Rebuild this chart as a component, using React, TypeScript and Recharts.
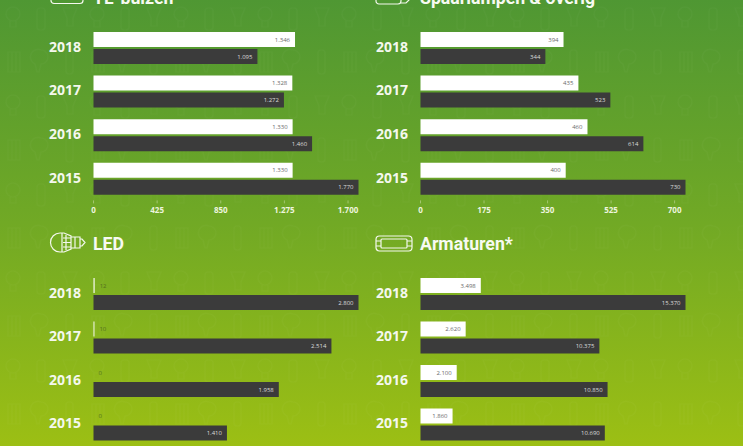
import React from 'react';
import { BarChart, Bar, XAxis, YAxis, LabelList } from 'recharts';

const years = ['2018', '2017', '2016', '2015'];

const tlWhite = [1346, 1328, 1330, 1330];
const tlDark = [1095, 1272, 1460, 1770];
const tlTicks = [0, 425, 850, 1275, 1700];

const spaarWhite = [394, 435, 460, 400];
const spaarDark = [344, 523, 614, 730];
const spaarTicks = [0, 175, 350, 525, 700];

const ledWhite = [12, 10, 0, 0];
const ledDark = [2800, 2514, 1958, 1410];

const armWhite = [3498, 2620, 2100, 1860];
const armDark = [15370, 10375, 10850, 10690];

const FONT = '"Open Sans", sans-serif';

const fmt = (v: number) => String(v).replace(/\B(?=(\d{3})+$)/g, '.');

const toRows = (white: number[], dark: number[]) =>
    years.map((year, i) => ({ year, white: white[i], dark: dark[i] }));

const YearTick = ({ y, payload }: any) => (
    <text x={49} y={y + 4} fill="#f4f8ee" fontSize={14} fontWeight={700} fontFamily={FONT}>
        {payload.value}
    </text>
);

const makeValueLabel = (fill: string) => ({ x, y, width, height, value }: any) => {
    const small = width < 20;
    return (
        <text
            x={small ? x + width + 5 : x + width - 5}
            y={y + height / 2 + 2}
            textAnchor={small ? 'start' : 'end'}
            fontSize={6}
            fontFamily={FONT}
            fill={small ? '#54701f' : fill}
        >
            {fmt(value)}
        </text>
    );
};

const whiteLabel = makeValueLabel('#6a6a6a');
const darkLabel = makeValueLabel('#dcdcdc');

interface PanelProps {
    left: number;
    top: number;
    title: string;
    icon: React.ReactNode;
    white: number[];
    dark: number[];
    max: number;
    ticks?: number[];
}

const Panel: React.FC<PanelProps> = ({ left, top, title, icon, white, dark, max, ticks }) => {
    return (
        <div style={{ position: 'absolute', left, top, width: 372, height: 232 }}>
            <div
                style={{
                    position: 'absolute', left: 93, top: -13, color: '#f7faf2', fontFamily: 'Roboto, sans-serif',
                    fontWeight: 700, fontSize: 17.7, lineHeight: '22px', whiteSpace: 'nowrap',
                }}
            >
                {title}
            </div>
            <svg style={{ position: 'absolute', left: 48, top: -16, overflow: 'visible' }} width={40} height={24}>
                {icon}
            </svg>
            <BarChart
                width={372}
                height={ticks ? 232 : 200}
                layout="vertical"
                data={toRows(white, dark)}
                margin={{ top: 26, right: 13.5, bottom: 0, left: 0 }}
                barSize={15}
                barGap={2}
            >
                <XAxis
                    type="number"
                    domain={[0, max]}
                    ticks={ticks}
                    hide={!ticks}
                    height={31.6}
                    axisLine={false}
                    tickSize={3}
                    tickMargin={4}
                    tickLine={{ stroke: '#b9d38e', strokeWidth: 0.7 }}
                    tick={{ fontSize: 8, fontWeight: 700, fill: '#eef5df', fontFamily: FONT }}
                    tickFormatter={fmt}
                    interval={0}
                />
                <YAxis type="category" dataKey="year" width={93.5} axisLine={false} tickLine={false} tick={YearTick} />
                <Bar dataKey="white" fill="#ffffff" isAnimationActive={false} minPointSize={0.01}>
                    <LabelList dataKey="white" content={whiteLabel} />
                </Bar>
                <Bar dataKey="dark" fill="#3b3b3b" isAnimationActive={false}>
                    <LabelList dataKey="dark" content={darkLabel} />
                </Bar>
            </BarChart>
        </div>
    );
};

const iconStroke = { fill: 'none', stroke: '#f4f8ee', strokeWidth: 1.2 };

const TubeIcon = (
    <g {...iconStroke}>
        <rect x={3} y={9} width={32} height={10.5} rx={3} />
        <path d="M0 14h3M35 14h3" />
    </g>
);

const SaverIcon = (
    <g {...iconStroke}>
        <rect x={1} y={9} width={25} height={11} rx={3} />
        <path d="M26 12h5l3 2v2l-3 3h-5" />
    </g>
);

const LedIcon = (
    <g {...iconStroke}>
        <path d="M16 3H12a9.5 9.5 0 0 0 0 19h4l7-3V6z" />
        <path d="M14 3v19M18 5v15M15 8h8M15 12.5h8M15 17h8" />
        <path d="M23 7h9v11h-9M27 7v11M32 9h2l3 3.5-3 3.5h-2" />
    </g>
);

const FixtureIcon = (
    <g {...iconStroke}>
        <rect x={1} y={6} width={36} height={15} rx={3.5} />
        <rect x={6} y={9} width={26} height={9} rx={1} />
        <path d="M1 11h5M1 16h5M32 11h5M32 16h5" />
    </g>
);

const App: React.FC = () => {
    return (
        <div
            style={{
                position: 'fixed', left: 0, top: 0, width: 743, height: 446, overflow: 'hidden',
                background: 'linear-gradient(180deg, #4f9733 0%, #71a925 50%, #9cbf14 100%)',
            }}
        >
            <svg style={{ position: 'absolute', left: 0, top: 0 }} width={743} height={446}>
                <defs>
                    <pattern id="bulbs" width={84} height={88} patternUnits="userSpaceOnUse">
                        <g fill="none" stroke="#ffffff" strokeOpacity={0.025} strokeWidth={1.2}>
                            <circle cx={13} cy={14} r={7} />
                            <path d="M10 21v6h6v-6" />
                            <rect x={37} y={8} width={8} height={22} rx={3} />
                            <path d="M63 8h14l-4 10v8h-6v-8z" />
                            <path d="M8 52h12v20H8zM12 52v20M16 52v20" />
                            <path d="M41 50a7 7 0 0 1 0 14l-2 8h-2l-2-8a7 7 0 0 1 6-14z" />
                            <rect x={66} y={50} width={7} height={24} rx={3} />
                        </g>
                    </pattern>
                </defs>
                <rect width={743} height={446} fill="url(#bulbs)" />
            </svg>
            <Panel left={0} top={0} title="TL-buizen" icon={TubeIcon} white={tlWhite} dark={tlDark} max={1770} ticks={tlTicks} />
            <Panel left={327} top={0} title="Spaarlampen & overig" icon={SaverIcon} white={spaarWhite} dark={spaarDark} max={730} ticks={spaarTicks} />
            <Panel left={0} top={246} title="LED" icon={LedIcon} white={ledWhite} dark={ledDark} max={2800} />
            <Panel left={327} top={246} title="Armaturen*" icon={FixtureIcon} white={armWhite} dark={armDark} max={15370} />
        </div>
    );
};

export default App;
